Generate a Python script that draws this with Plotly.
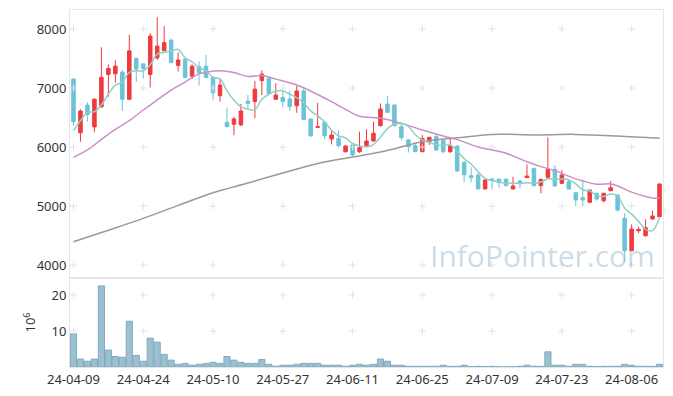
import plotly.graph_objects as go
from plotly.subplots import make_subplots
import pandas as pd

dates = ["2024-04-09","2024-04-11","2024-04-12","2024-04-15","2024-04-16","2024-04-17","2024-04-18","2024-04-19","2024-04-22","2024-04-23",
         "2024-04-24","2024-04-25","2024-04-26","2024-04-29","2024-04-30","2024-05-02","2024-05-03","2024-05-07","2024-05-08","2024-05-09",
         "2024-05-10","2024-05-13","2024-05-14","2024-05-16","2024-05-17","2024-05-20","2024-05-21","2024-05-22","2024-05-23","2024-05-24",
         "2024-05-27","2024-05-28","2024-05-29","2024-05-30","2024-05-31","2024-06-03","2024-06-04","2024-06-05","2024-06-07","2024-06-10",
         "2024-06-11","2024-06-12","2024-06-13","2024-06-14","2024-06-17","2024-06-18","2024-06-19","2024-06-20","2024-06-21","2024-06-24",
         "2024-06-25","2024-06-26","2024-06-27","2024-06-28","2024-07-01","2024-07-02","2024-07-03","2024-07-04","2024-07-05","2024-07-08",
         "2024-07-09","2024-07-10","2024-07-11","2024-07-12","2024-07-15","2024-07-16","2024-07-17","2024-07-18","2024-07-19","2024-07-22",
         "2024-07-23","2024-07-24","2024-07-25","2024-07-26","2024-07-29","2024-07-30","2024-07-31","2024-08-01","2024-08-02","2024-08-05",
         "2024-08-06","2024-08-07","2024-08-08","2024-08-09","2024-08-12"]

open_ = [7150,6240,6710,6340,6680,7230,7240,7270,6810,7500,
         7410,7230,7510,7630,7810,7380,7490,7200,7360,7370,
         7180,6870,6420,6385,6375,6780,6770,7125,7165,6810,
         6840,6815,6700,6950,6475,6333,6420,6136,6147,5921,
         6034,5921,6023,6102,6361,6729,6712,6344,6119,6023,
         5921,6090,6175,6108,5921,6017,5740,5513,5525,5288,
         5458,5452,5452,5288,5424,5480,5639,5344,5486,5622,
         5385,5412,5225,5141,5063,5215,5090,5260,5186,4791,
         4242,4580,4497,4780,4819]
high = [7170,6640,6760,6825,7690,7400,7470,7305,7900,7520,
        7420,7930,8200,8050,7840,7600,7500,7400,7450,7560,
        7190,7150,6670,6510,6730,6880,7120,7300,7175,7080,
        6940,6955,7040,7010,6480,6750,6440,6290,6277,6030,
        6060,6260,6300,6430,6740,6864,6720,6420,6140,6060,
        6203,6170,6220,6120,6147,6030,5760,5656,5560,5450,
        5475,5470,5475,5497,5440,5707,5645,5460,6164,5695,
        5610,5440,5240,5452,5275,5225,5225,5424,5195,4876,
        4690,4650,4774,4920,5380]
low = [6360,6090,6430,6250,6670,6850,7090,6610,6800,7100,
       7160,7010,7475,7620,7420,7280,7180,7150,7040,7180,
       6800,6770,6333,6200,6355,6660,6490,6880,6900,6800,
       6670,6610,6580,6460,6170,6325,6130,6045,5994,5904,
       5847,5900,6010,6090,6350,6580,6350,6110,5910,5910,
       5910,6034,5930,5893,5900,5580,5402,5400,5288,5288,
       5283,5310,5340,5288,5300,5475,5344,5215,5480,5330,
       5370,5288,5000,5000,5050,5090,5060,5250,4904,4050,
       4240,4537,4480,4770,4810]
close = [6430,6610,6550,6810,7180,7330,7370,6810,7630,7320,
         7330,7880,7710,7770,7430,7475,7180,7370,7260,7180,
         6920,7050,6345,6475,6610,6740,6980,7235,6905,6880,
         6770,6685,6950,6465,6190,6344,6190,6203,6023,6017,
         5864,5989,6102,6232,6644,6588,6361,6158,6006,5921,
         6147,6164,5949,5921,6017,5593,5530,5480,5288,5441,
         5430,5395,5344,5339,5385,5508,5344,5452,5622,5339,
         5525,5288,5102,5102,5271,5119,5215,5310,4932,4242,
         4610,4604,4632,4830,5373]

volume_m = [9.2,2.2,1.6,2.2,22.5,4.7,2.9,2.7,12.7,3.2,
            1.6,8.0,6.9,3.5,1.9,0.75,1.0,0.5,0.75,1.0,
            1.3,1.0,2.9,1.9,1.3,1.0,1.0,2.1,0.75,0.2,
            0.5,0.5,0.75,1.0,1.0,1.0,0.5,0.5,0.5,0.2,
            0.5,0.75,0.5,0.75,2.2,1.6,0.5,0.5,0.2,0.2,
            0.2,0.2,0.2,0.5,0.2,0.2,0.5,0.1,0.2,0.1,
            0.2,0.05,0.05,0.05,0.2,0.5,0.2,0.2,4.2,0.5,
            0.5,0.2,0.75,0.75,0.2,0.1,0.2,0.2,0.2,0.75,
            0.5,0.2,0.2,0.2,0.75]

# 5-day MA: first four values, rest from closes
ma5_head = [6277, 6446, 6582, 6600]
# 20-day MA (index, value)
ma20_idx = [0,2,4,6,8,10,12,14,16,18,20,21,23,25,27,29,32,35,37,39,41,44,47,50,53,55,58,60,62,65,67,69,72,75,77,78,80,82,83,84]
ma20_val = [5825,5950,6130,6300,6446,6627,6797,6966,7100,7240,7285,7294,7262,7195,7210,7150,7051,6890,6768,6639,6520,6486,6401,6288,6186,6125,6000,5949,5893,5751,5667,5600,5460,5370,5375,5340,5235,5160,5135,5130]
# long MA
malong_idx = [0,5,10,15,20,25,30,35,40,45,50,55,60,66,72,78,84]
malong_val = [4395,4590,4791,5010,5225,5390,5560,5720,5830,5940,6090,6155,6214,6205,6214,6186,6147]

price_ticks = [4000, 5000, 6000, 7000, 8000]
vol_ticks = [10, 20]
xtick_vals = dates[::10]
xtick_text = [d[2:] for d in xtick_vals]

ma5 = ma5_head + list(pd.Series(close).rolling(5).mean().dropna().round(1))

fig = make_subplots(rows=2, cols=1, shared_xaxes=True, vertical_spacing=0,
                    row_heights=[268, 89])

fig.add_trace(go.Candlestick(x=dates, open=open_, high=high, low=low, close=close,
                             increasing=dict(line=dict(color="#ef3a3e", width=1), fillcolor="#ef3a3e"),
                             decreasing=dict(line=dict(color="#6cc3d8", width=1), fillcolor="#6cc3d8"),
                             whiskerwidth=0, showlegend=False), row=1, col=1)
fig.add_trace(go.Bar(x=dates, y=volume_m, marker=dict(color="#9dc0d1", line=dict(color="#7faac0", width=1)),
                     showlegend=False), row=2, col=1)

grid_col = "#e2e2e2"
for yt, row in [(price_ticks, 1), (vol_ticks, 2)]:
    xs, ys = [], []
    for xv in xtick_vals:
        for yv in yt:
            xs.append(xv); ys.append(yv)
    fig.add_trace(go.Scatter(x=xs, y=ys, mode="markers", hoverinfo="skip", showlegend=False,
                             marker=dict(symbol="cross-thin", size=5, line=dict(color=grid_col, width=1))),
                  row=row, col=1)

fig.add_trace(go.Scatter(x=[dates[i] for i in malong_idx], y=malong_val, mode="lines",
                         line=dict(color="#9a9a9a", width=1.5, shape="spline"), showlegend=False), row=1, col=1)
fig.add_trace(go.Scatter(x=[dates[i] for i in ma20_idx], y=ma20_val, mode="lines",
                         line=dict(color="#cc8ec8", width=1.5, shape="spline"), showlegend=False), row=1, col=1)
fig.add_trace(go.Scatter(x=dates, y=ma5, mode="lines",
                         line=dict(color="#8fd0c6", width=1.5, shape="spline"), showlegend=False), row=1, col=1)

axis_common = dict(showline=True, mirror=True, linecolor="#e6e6e6", linewidth=1, showgrid=False,
                   zeroline=False, ticks="", tickfont=dict(family="Noto Sans", size=13, color="#333333"))

fig.update_xaxes(type="category", categoryorder="array", categoryarray=dates,
                 range=[-0.5, len(dates) - 0.5], rangeslider_visible=False, tickangle=0, **axis_common)
fig.update_xaxes(showticklabels=False, row=1, col=1)
fig.update_xaxes(tickmode="array", tickvals=xtick_vals, ticktext=xtick_text, row=2, col=1)
fig.update_yaxes(**axis_common)
fig.update_yaxes(range=[3780, 8322], tickmode="array", tickvals=price_ticks, row=1, col=1)
fig.update_yaxes(range=[0, 24.7], tickmode="array", tickvals=vol_ticks, row=2, col=1,
                 title=dict(text="10<sup>6</sup>", font=dict(family="Noto Sans", size=13, color="#333333"), standoff=12))

fig.add_annotation(text="InfoPointer.com", xref="x domain", yref="y domain", x=0.99, y=0.0,
                   xanchor="right", yanchor="bottom", showarrow=False,
                   font=dict(family="Open Sans", size=30, color="rgba(160,190,210,0.55)"))

# page body has an 8px margin: shrink figure and margins to keep plot area in place
fig.update_layout(width=665, height=388, margin=dict(l=62, r=10, t=2, b=29),
                  plot_bgcolor="white", paper_bgcolor="white", bargap=0.12, boxgap=0.28,
                  showlegend=False, font=dict(family="Noto Sans", color="#333333"))

fig.write_html("out.html")
